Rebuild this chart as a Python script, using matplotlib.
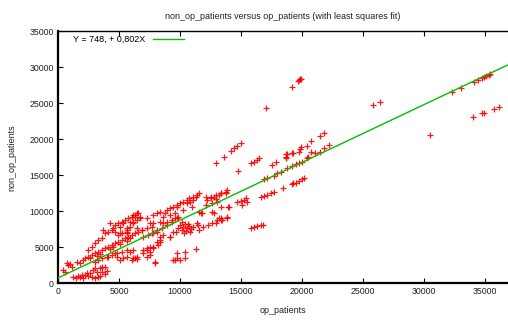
import matplotlib
matplotlib.use("Agg")
import matplotlib.pyplot as plt
import numpy as np

plt.rcParams['font.family'] = ['Liberation Sans', 'DejaVu Sans']

title = "non_op_patients versus op_patients (with least squares fit)"
x_label = "op_patients"
y_label = "non_op_patients"
fit_label = "Y = 748, + 0,802X"
fit_intercept = 748.0
fit_slope = 0.802

x_ticks = [0, 5000, 10000, 15000, 20000, 25000, 30000, 35000]
y_ticks = [0, 5000, 10000, 15000, 20000, 25000, 30000, 35000]

# ---- scatter data (op_patients, non_op_patients) ----
op_patients = [
    # far right / top
    34150, 34477, 34804, 34967, 35131, 35376, 35458, 32271, 33007,
    34069, 34804, 34967, 35785, 36193, 30474, 25817, 26389,
    19771, 19853, 19690, 19935, 19200, 17075,
    21487, 21814, 20752, 20425, 19935, 19853, 19281, 18709, 18709, 22222,
    21814, 21487, 21079, 20507,
    # 15000-21000 band
    15850, 16095, 16340, 16667, 16830,
    16667, 16912, 17157, 17484, 17729, 18464, 19281, 19526, 19771, 20017, 20180, 19200,
    16912, 17157, 17729, 17974, 18301, 18791, 19200, 19526, 19771, 20017, 20425,
    17566, 17892, 18709, 18791, 19200, 19771, 20752,
    15850, 16095, 16340, 16503, 12990, 13644, 14216, 14461, 14706, 15033,
    14788, 13889, 13971, 13889, 14706, 15033, 15278, 15441,
    # 10000-14000 band
    10213, 10539, 10948, 11030, 11356, 11601, 11847, 12255, 12582, 12990, 12827, 13072,
    13399, 13399, 14052, 10784, 12827, 13235, 13807, 13399, 12664, 11765, 11438, 12664,
    13399, 13235,
    9967, 10213, 10376, 10539, 10702, 10866, 11030, 10131, 10458, 10784, 10294, 10621,
    9804, 9641,
    9150, 8333, 7762, 7516, 7271, 6945, 7925, 9722, 10376, 9396, 9722, 9967, 10376,
    11356, 9559,
    # bottom-left cluster
    410, 820, 740, 980, 1150, 570,
    1230, 1470, 1640, 1800, 1960, 2210, 2370, 2610, 2780, 3020, 3270, 3430, 3600, 3840,
    3190, 2860, 4000, 2450, 2050,
    3430, 3600, 3840, 3020,
    1560, 1800, 2210, 2450, 2780, 3020, 3270, 3600, 3840, 4090, 4410, 4660, 4900, 5230,
    5470, 5720, 6050, 6290, 6540, 6860,
    2050, 2620, 3190, 3430, 4250, 4490, 5070, 5640, 5880,
    2450, 2780, 3020, 3270, 3600, 3840, 4090, 4410, 4490, 4660, 4900, 5230, 5470, 5720,
    6050, 6290, 6540, 6700, 6450, 6130, 5880, 5640, 5230, 4900, 4250, 3680,
    4660, 5640, 6950, 7350, 7680, 8090, 8500, 8900, 9310, 9720, 10130,
    11440, 11600, 11850, 12260,
    6290, 6700, 7270, 7760, 8090, 8330, 8740, 8900, 9150, 9400, 9720, 9970, 10210, 10540,
    10780, 11030, 11360, 11600, 12170, 12580, 12990, 13400, 13810, 12660, 13070, 12170,
    15110, 15520,
    6130, 6450,
    9150, 9560, 9720, 8580, 8330, 7760, 7520, 7680, 7270, 6130, 5880, 5310, 5070, 5640,
    6450, 6860, 7760, 8090, 8580, 8900, 9310, 9560, 9800, 9400, 9150, 8330, 8580, 5640,
    5070,
    4820, 5070, 5310, 5640, 6130, 6450, 7270, 7520, 7930, 6950, 7270, 7520, 7760, 8090,
    8330, 8170, 4410, 4090, 4660, 5880, 6130, 6290,
    3020, 3270, 3600, 4000, 4820, 5230, 5640, 6050, 6450,
    12990, 13480, 13890,
]

non_op_patients = [
    # far right / top
    27960, 28238, 28516, 28655, 28794, 28933, 29072, 26572, 27127,
    23099, 23655, 23655, 24210, 24488, 20599, 24766, 25183,
    28238, 28377, 28100, 28377, 27266, 24349,
    20460, 20877, 19766, 19071, 18932, 18654, 18099, 17960, 17543, 19210,
    18793, 18237, 18099, 17543,
    # 15000-21000 band
    7681, 7820, 7959, 8098, 8098,
    11987, 12126, 12265, 12543, 12682, 13237, 13932, 13932, 14210, 14487, 14626, 13793,
    14487, 14626, 14904, 15321, 15460, 16015, 16293, 16571, 16710, 16849, 17404,
    16432, 16849, 17404, 17960, 18099, 18237, 18237,
    16710, 16849, 17126, 17404, 16710, 17543, 18376, 18793, 19071, 19488,
    15599, 12959, 10598, 9209, 11293, 11431, 11570, 11848,
    # 10000-14000 band
    10181, 11154, 10598, 11570, 11987, 9904, 9765, 11570, 11848, 11709, 9765, 8792,
    9070, 12543, 10598, 11293, 11987, 12265, 12543, 10598, 9904, 9765, 8376, 8376,
    8792, 9070,
    8098, 7820, 8237, 7681, 7959, 7542, 7820, 7404, 7265, 7126, 6987, 8237,
    7681, 7126,
    6431, 5737, 4903, 4348, 4625, 4209, 2959, 4209, 4348, 3236, 3514, 3236, 3514,
    4764, 3236,
    # bottom-left cluster
    1850, 2540, 2820, 2680, 2260, 1570,
    880, 740, 1010, 880, 1150, 1150, 1430, 1430, 880, 740, 880, 1010, 1570, 1290,
    1570, 1850, 1710, 1010, 740,
    2130, 2260, 2260, 2130,
    2960, 2820, 3510, 3650, 3930, 4210, 4350, 4630, 4900, 5040, 5320, 5600, 5740, 6010,
    6290, 6430, 6710, 6990, 7130, 7400,
    3240, 3510, 3790, 4070, 4760, 5040, 5460, 5880, 6290,
    4630, 5040, 5600, 6010, 6290, 6990, 7130, 7400, 7680, 8100, 8380, 8520, 8790, 9070,
    9210, 9490, 9770, 9210, 8790, 8380, 7820, 7400, 6990, 6710, 8380, 7400,
    7130, 7130, 6430, 6710, 6990, 7130, 7680, 8100, 8520, 9070, 8520,
    8100, 7400, 7820, 8100,
    9210, 9070, 9070, 9490, 9770, 9900, 9770, 10180, 10460, 10600, 10880, 11150, 11290, 11570,
    11850, 11990, 12270, 12540, 11990, 11990, 12270, 12540, 12680, 11150, 11290, 10880,
    10880, 11290,
    9490, 9770,
    9490, 9770, 10600, 9210, 8520, 8380, 8380, 7820, 7680, 8520, 8520, 8380, 7820, 7680,
    7680, 7400, 6990, 7400, 8380, 8520, 8790, 9070, 9210, 7130, 6430, 6430, 6710, 6990,
    6990,
    3650, 3240, 3510, 3650, 3510, 3370, 3650, 3930, 2820, 4630, 4900, 5040, 5040, 5740,
    6010, 5320, 3930, 3650, 4210, 4350, 4630, 3510,
    2960, 3240, 3510, 3650, 4210, 4350, 4630, 3240, 3650,
    8380, 8790, 9070,
]

x_max = 36900
y_max = 35000

fig = plt.figure(figsize=(5.08, 3.20), dpi=100)
ax = fig.add_axes([58 / 508, 36.7 / 320, 1 - 58 / 508, 252 / 320])

ax.plot(op_patients, non_op_patients, linestyle='none', marker='+',
        color='#ff0000', markersize=3.7, markeredgewidth=0.9, alpha=0.9, zorder=3)

fx = np.array([0, x_max])
ax.plot(fx, fit_intercept + fit_slope * fx, color='#00c000', linewidth=1.0,
        label=fit_label, zorder=4)

ax.set_xlim(0, x_max)
ax.set_ylim(0, y_max)
ax.set_xticks(x_ticks)
ax.set_yticks(y_ticks)
ax.tick_params(direction='in', top=True, right=False, length=3.5, width=0.8,
               labelsize=6.3, labelcolor='#222222', pad=3)
for s in ['left', 'bottom', 'top']:
    ax.spines[s].set_linewidth(1.0)
ax.spines['left'].set_linewidth(1.6)
ax.spines['bottom'].set_linewidth(1.6)
ax.spines['right'].set_visible(False)

ax.set_title(title, fontsize=6.5, color='#222222', pad=9)
ax.set_xlabel(x_label, fontsize=6.5, color='#222222', labelpad=7)
ax.set_ylabel(y_label, fontsize=6.5, color='#222222', labelpad=9)

leg = ax.legend(loc='upper left', frameon=False, fontsize=6.5, handlelength=3.5,
                handletextpad=0.8, borderaxespad=0.3, markerfirst=False,
                bbox_to_anchor=(0.02, 1.01))

fig.savefig('out.png', dpi=100)
